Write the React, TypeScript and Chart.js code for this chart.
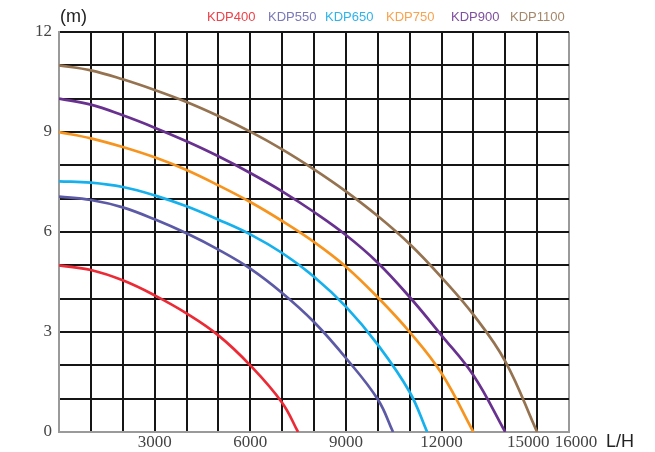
import React, { useEffect, useRef } from "react";
import { Chart, registerables } from "chart.js";

Chart.register(...registerables);

const seriesNames = ["KDP400", "KDP550", "KDP650", "KDP750", "KDP900", "KDP1100"];

const flow400 = [0, 1000, 2000, 3000, 4000, 5000, 6000, 7000, 7500];
const head400 = [5.0, 4.86, 4.55, 4.1, 3.56, 2.9, 2.0, 0.88, 0];

const flow550 = [0, 1000, 2000, 3000, 4000, 5000, 6000, 7000, 8000, 9000, 10000, 10480];
const head550 = [7.06, 6.96, 6.74, 6.38, 5.96, 5.47, 4.9, 4.17, 3.3, 2.22, 0.98, 0];

const flow650 = [0, 1000, 2000, 3000, 4000, 5000, 6000, 7000, 8000, 9000, 10000, 11000, 11550];
const head650 = [7.52, 7.48, 7.35, 7.1, 6.77, 6.37, 5.93, 5.37, 4.66, 3.76, 2.62, 1.2, 0];

const flow750 = [0, 1000, 2000, 3000, 4000, 5000, 6000, 7000, 8000, 9000, 10000, 11000, 12000, 13000];
const head750 = [9.0, 8.81, 8.55, 8.24, 7.86, 7.4, 6.9, 6.33, 5.7, 4.96, 4.04, 3.0, 1.76, 0];

const flow900 = [0, 1000, 2000, 3000, 4000, 5000, 6000, 7000, 8000, 9000, 10000, 11000, 12000, 13000, 14000];
const head900 = [10.0, 9.82, 9.5, 9.13, 8.72, 8.27, 7.77, 7.22, 6.6, 5.91, 5.08, 4.05, 2.9, 1.7, 0];

const flow1100 = [0, 1000, 2000, 3000, 4000, 5000, 6000, 7000, 8000, 9000, 10000, 11000, 12000, 13000, 14000, 15000];
const head1100 = [11.0, 10.85, 10.58, 10.26, 9.9, 9.48, 9.01, 8.48, 7.88, 7.22, 6.48, 5.64, 4.64, 3.52, 2.12, 0];

const xTickLabels = [3000, 6000, 9000, 12000, 15000, 16000];
const yTickLabels = [0, 3, 6, 9, 12];

const lineColors = ["#ec2a35", "#5c5aa6", "#16b1ec", "#f7941e", "#69318f", "#957350"];
const legendColors = ["#ef4149", "#7a78b8", "#2fb3ea", "#f9a24f", "#7f4f9f", "#a5876a"];
const legendX = [207, 268, 325, 386, 451, 510];

const flows = [flow400, flow550, flow650, flow750, flow900, flow1100];
const heads = [head400, head550, head650, head750, head900, head1100];

const textPlugin = {
  id: "customText",
  afterDraw(chart: any) {
    const ctx = chart.ctx;
    const xs = chart.scales.x;
    const ys = chart.scales.y;
    const area = chart.chartArea;
    ctx.save();
    ctx.font = "17px 'Liberation Serif', 'DejaVu Serif', serif";
    ctx.fillStyle = "#444";
    ctx.textAlign = "right";
    ctx.textBaseline = "middle";
    yTickLabels.forEach((v) => {
      ctx.fillText(String(v), area.left - 7, ys.getPixelForValue(v));
    });
    ctx.textAlign = "center";
    xTickLabels.forEach((v, i) => {
      let adj = 0;
      if (i === xTickLabels.length - 1) adj = 7;
      if (i === xTickLabels.length - 2) adj = -9;
      ctx.fillText(String(v), xs.getPixelForValue(v) + adj, area.bottom + 11);
    });
    ctx.font = "18px 'Liberation Sans', Arial, sans-serif";
    ctx.fillStyle = "#222";
    ctx.textAlign = "left";
    ctx.fillText("(m)", area.left + 1, 17);
    ctx.fillText("L/H", 606, area.bottom + 10);
    ctx.font = "13px 'Liberation Sans', Arial, sans-serif";
    seriesNames.forEach((n, i) => {
      ctx.fillStyle = legendColors[i];
      ctx.fillText(n, legendX[i], 17);
    });
    ctx.restore();
  },
};

export default function App() {
  const ref = useRef<HTMLCanvasElement | null>(null);
  useEffect(() => {
    if (!ref.current) return;
    const datasets = seriesNames.map((name, i) => ({
      label: name,
      data: flows[i].map((q, j) => ({ x: q, y: heads[i][j] })),
      borderColor: lineColors[i],
      backgroundColor: lineColors[i],
      borderWidth: 2.7,
      pointRadius: 0,
      fill: false,
      tension: 0.4,
    }));
    const chart = new Chart(ref.current, {
      type: "line",
      data: { datasets },
      options: {
        responsive: false,
        animation: false,
        layout: { padding: { left: 59, top: 32, right: 86, bottom: 20 } },
        plugins: { legend: { display: false }, tooltip: { enabled: false } },
        scales: {
          x: {
            type: "linear",
            min: 0,
            max: 16000,
            ticks: { stepSize: 1000, display: false },
            grid: {
              drawTicks: false,
              lineWidth: 2,
              color: (c: any) =>
                c.tick && (c.tick.value === 16000 || c.tick.value === 0) ? "#9a9a9a" : "#151515",
            },
            border: { display: true, color: "#9a9a9a", width: 2 },
          },
          y: {
            type: "linear",
            min: 0,
            max: 12,
            ticks: { stepSize: 1, display: false },
            grid: {
              drawTicks: false,
              lineWidth: 2,
              color: (c: any) => (c.tick && c.tick.value === 0 ? "#9a9a9a" : "#151515"),
            },
            border: { display: true, color: "#9a9a9a", width: 2 },
          },
        },
      },
      plugins: [textPlugin],
    });
    return () => chart.destroy();
  }, []);
  return (
    <div style={{ position: "fixed", left: 0, top: 0, width: 655, height: 452, background: "#fff" }}>
      <canvas ref={ref} width={655} height={452} style={{ display: "block" }} />
    </div>
  );
}
